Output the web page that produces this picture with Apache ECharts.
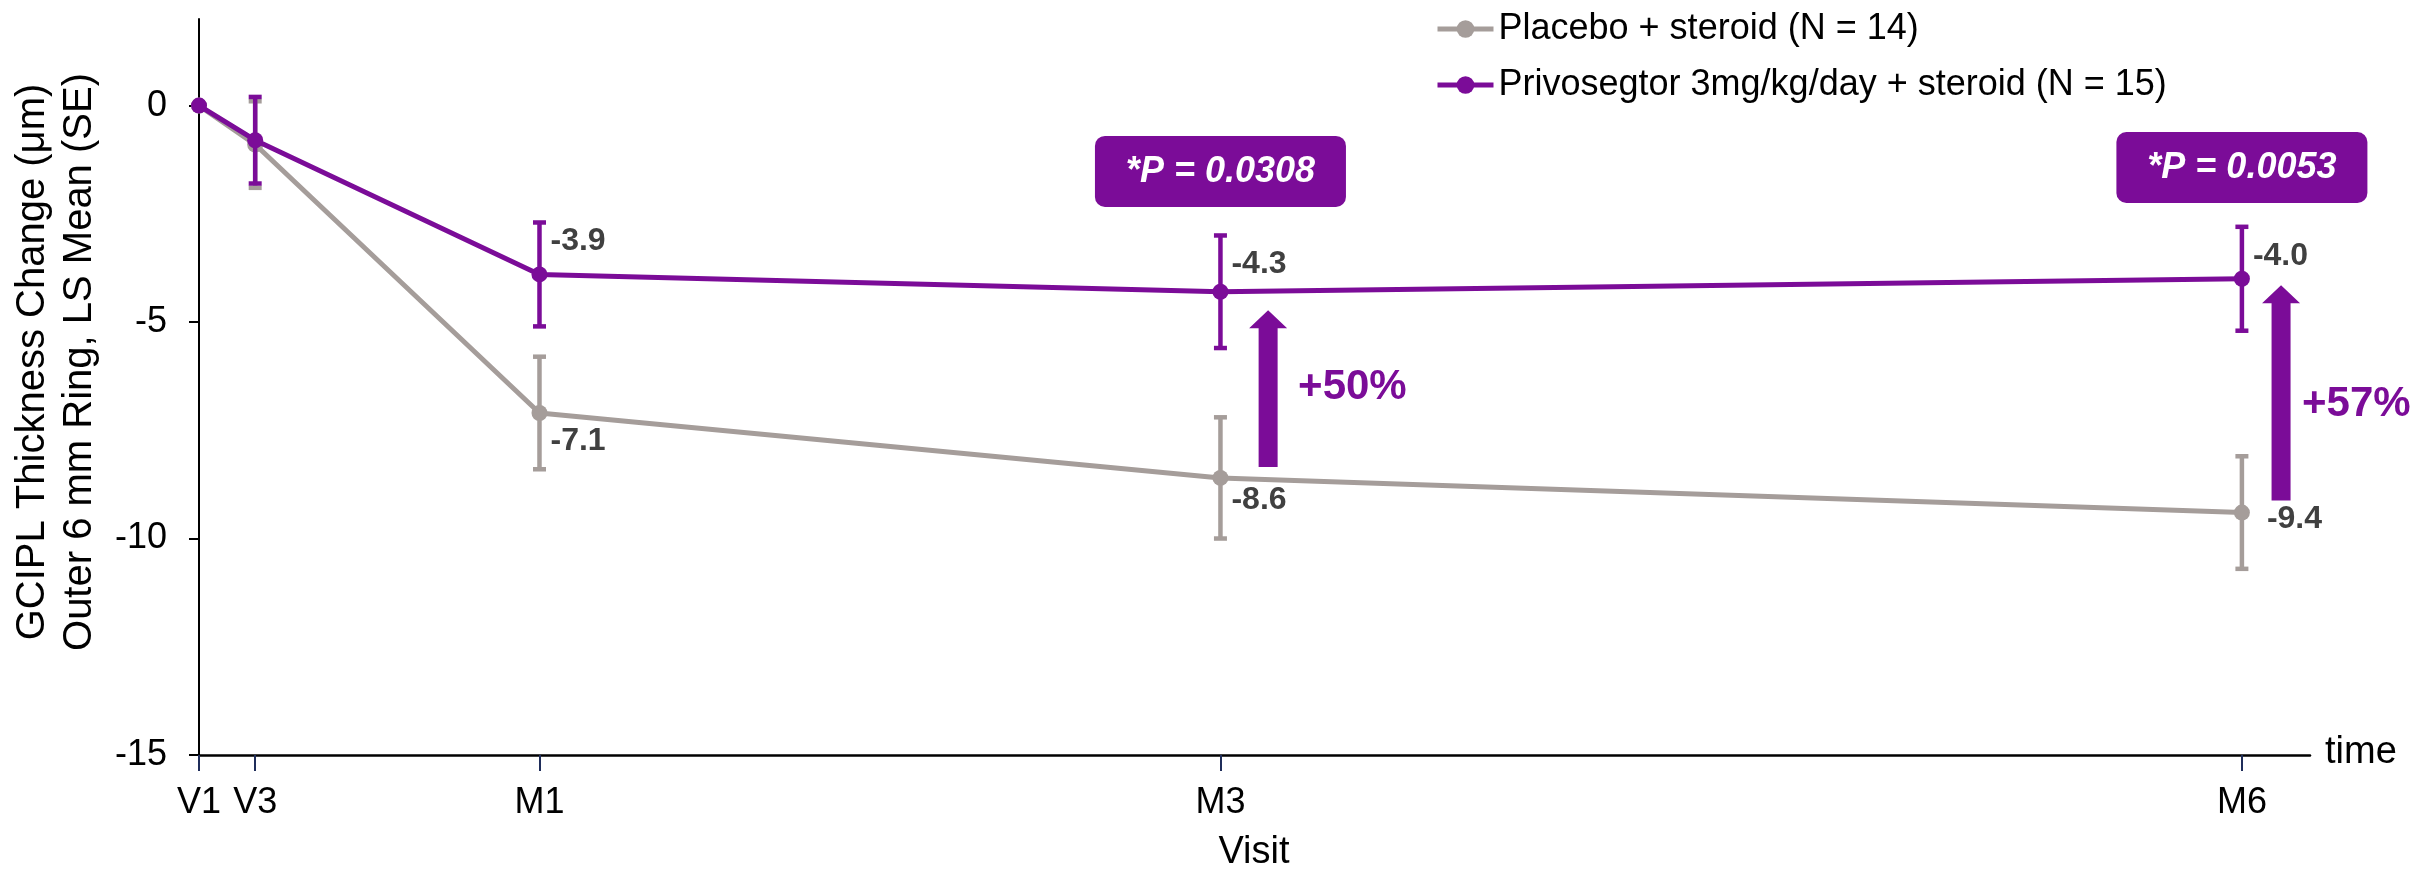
<!DOCTYPE html>
<html><head><meta charset="utf-8">
<script src="https://cdn.jsdelivr.net/npm/echarts@6/dist/echarts.min.js"></script>
<style>html,body{margin:0;padding:0;background:#fff}#c{width:2427px;height:874px}</style>
</head><body><div id="c"></div>
<script>
// ---- data ----
const visitNames = ['V1', 'V3', 'M1', 'M3', 'M6'];
const visitMonths = [0, 0.165, 1, 3, 6];
const placeboMean = [0, -0.9, -7.1, -8.6, -9.4];
const placeboSE = [0, 1.0, 1.3, 1.4, 1.3];
const privoMean = [0, -0.8, -3.9, -4.3, -4.0];
const privoSE = [0, 1.0, 1.2, 1.3, 1.2];
const labelledVisits = [2, 3, 4];
const yTicks = [-15, -10, -5, 0];
const seriesNames = ['Placebo + steroid (N = 14)', 'Privosegtor 3mg/kg/day + steroid (N = 15)'];
const pValueTexts = ['*P = 0.0308', '*P = 0.0053'];
const pValueVisits = [3, 4];
const pBoxY = [-1.52, -1.43];
const gainTexts = ['+50%', '+57%'];
const arrowX = [3.14, 6.115];
const arrowFrom = [-8.35, -9.12];
const arrowTo = [-4.73, -4.15];
const gainY = [-6.5, -6.9];

// ---- styling ----
const FONT = 'Liberation Sans, Arial, sans-serif';
const GREY = '#A59D9A';
const PURPLE = '#7B0C98';
const LABEL_C = '#404040';
const greyLabelOffset = {2: [0, 28], 3: [0, 22], 4: [14, 7]};
const purpleLabelOffset = {2: [0, -33], 3: [0, -28], 4: [0, -23]};
const gainTextDx = [30, 21];

function lineData(means, offsets) {
  return visitMonths.map((m, i) => {
    const item = {value: [m, means[i]]};
    if (labelledVisits.includes(i)) {
      item.label = {show: true, offset: offsets[i], formatter: () => means[i].toFixed(1)};
    }
    return item;
  });
}
function errData(means, se) {
  return visitMonths.map((m, i) => [m, means[i] - se[i], means[i] + se[i]]).filter((d, i) => se[i] > 0);
}
function errRender(color) {
  return function (params, api) {
    const x = api.value(0);
    const lo = api.coord([x, api.value(1)]);
    const hi = api.coord([x, api.value(2)]);
    const w = 6.5;
    const st = {stroke: color, lineWidth: 4.5};
    return {type: 'group', children: [
      {type: 'line', shape: {x1: lo[0], y1: lo[1], x2: hi[0], y2: hi[1]}, style: st},
      {type: 'line', shape: {x1: lo[0] - w, y1: lo[1], x2: lo[0] + w, y2: lo[1]}, style: st},
      {type: 'line', shape: {x1: hi[0] - w, y1: hi[1], x2: hi[0] + w, y2: hi[1]}, style: st}
    ]};
  };
}
const labelStyle = {position: 'right', distance: 3, color: LABEL_C, fontSize: 32, fontWeight: 'bold', fontFamily: FONT};

const chart = echarts.init(document.getElementById('c'), null, {renderer: 'canvas'});
chart.setOption({
  animation: false,
  backgroundColor: '#fff',
  grid: {left: 199, right: 117, top: 19, bottom: 119, containLabel: false},
  legend: {
    data: seriesNames, orient: 'vertical', left: 1430, top: 6,
    itemWidth: 56, itemHeight: 22, itemGap: 20,
    lineStyle: {width: 5},
    textStyle: {fontSize: 36, lineHeight: 36, color: '#000', fontFamily: FONT}
  },
  xAxis: {
    type: 'value', min: 0, max: 6.2,
    axisLine: {show: true, onZero: false, lineStyle: {color: '#000', width: 2.5}},
    axisTick: {show: true, customValues: visitMonths, length: 16, lineStyle: {color: '#1F2D5A', width: 2}},
    axisLabel: {customValues: visitMonths, margin: 30, fontSize: 36, color: '#000', fontFamily: FONT,
      formatter: v => { const i = visitMonths.indexOf(v); return i >= 0 ? visitNames[i] : ''; }},
    splitLine: {show: false}
  },
  yAxis: {
    type: 'value', min: -15, max: 2,
    axisLine: {show: true, onZero: false, lineStyle: {color: '#000', width: 2}},
    axisTick: {show: true, customValues: yTicks, length: 10, lineStyle: {color: '#000', width: 2}},
    axisLabel: {customValues: yTicks, margin: 32, fontSize: 36, color: '#000', fontFamily: FONT},
    splitLine: {show: false}
  },
  graphic: [
    {type: 'text', x: 56, y: 362, rotation: Math.PI / 2,
      style: {text: 'GCIPL Thickness Change (μm)\nOuter 6 mm Ring, LS Mean (SE)', align: 'center', verticalAlign: 'middle',
        fontSize: 40, lineHeight: 47, fill: '#000', fontFamily: FONT}},
    {type: 'text', x: 1254, y: 853, style: {text: 'Visit', align: 'center', verticalAlign: 'middle', fontSize: 38, fill: '#000', fontFamily: FONT}},
    {type: 'text', x: 2325, y: 753, style: {text: 'time', align: 'left', verticalAlign: 'middle', fontSize: 38, fill: '#000', fontFamily: FONT}}
  ],
  series: [
    {type: 'custom', name: 'errPlacebo', renderItem: errRender(GREY), data: errData(placeboMean, placeboSE), z: 2, silent: true},
    {type: 'line', name: seriesNames[0], data: lineData(placeboMean, greyLabelOffset), z: 3,
      symbol: 'circle', symbolSize: 16, itemStyle: {color: GREY}, lineStyle: {color: GREY, width: 5},
      label: labelStyle},
    {type: 'custom', name: 'errPrivo', renderItem: errRender(PURPLE), data: errData(privoMean, privoSE), z: 4, silent: true},
    {type: 'line', name: seriesNames[1], data: lineData(privoMean, purpleLabelOffset), z: 5,
      symbol: 'circle', symbolSize: 16, itemStyle: {color: PURPLE}, lineStyle: {color: PURPLE, width: 5},
      label: labelStyle},
    {type: 'custom', name: 'arrows', z: 6, silent: true,
      data: arrowX.map((x, i) => [x, arrowFrom[i], arrowTo[i], gainY[i], i]),
      renderItem: function (params, api) {
        const x = api.value(0);
        const b = api.coord([x, api.value(1)]);
        const t = api.coord([x, api.value(2)]);
        const g = api.coord([x, api.value(3)]);
        const i = api.value(4);
        const cx = b[0], sw = 9.5, hw = 19, hh = 18;
        return {type: 'group', children: [
          {type: 'polygon', shape: {points: [[cx - sw, b[1]], [cx + sw, b[1]], [cx + sw, t[1] + hh], [cx + hw, t[1] + hh],
            [cx, t[1]], [cx - hw, t[1] + hh], [cx - sw, t[1] + hh]]}, style: {fill: PURPLE}},
          {type: 'text', x: cx + gainTextDx[i], y: g[1], style: {text: gainTexts[i], align: 'left', verticalAlign: 'middle',
            fontSize: 42, fontWeight: 'bold', fill: PURPLE, fontFamily: FONT}}
        ]};
      }},
    {type: 'custom', name: 'pboxes', z: 6, silent: true,
      data: pValueVisits.map((v, i) => [visitMonths[v], pBoxY[i], i]),
      renderItem: function (params, api) {
        const c = api.coord([api.value(0), api.value(1)]);
        const i = api.value(2);
        const w = 251, h = 71;
        return {type: 'group', children: [
          {type: 'rect', shape: {x: c[0] - w / 2, y: c[1] - h / 2, width: w, height: h, r: 10}, style: {fill: PURPLE}},
          {type: 'text', x: c[0], y: c[1] + 1, style: {text: pValueTexts[i], align: 'center', verticalAlign: 'middle',
            fontSize: 36, fontWeight: 'bold', fontStyle: 'italic', fill: '#fff', fontFamily: FONT}}
        ]};
      }}
  ]
});
</script></body></html>
